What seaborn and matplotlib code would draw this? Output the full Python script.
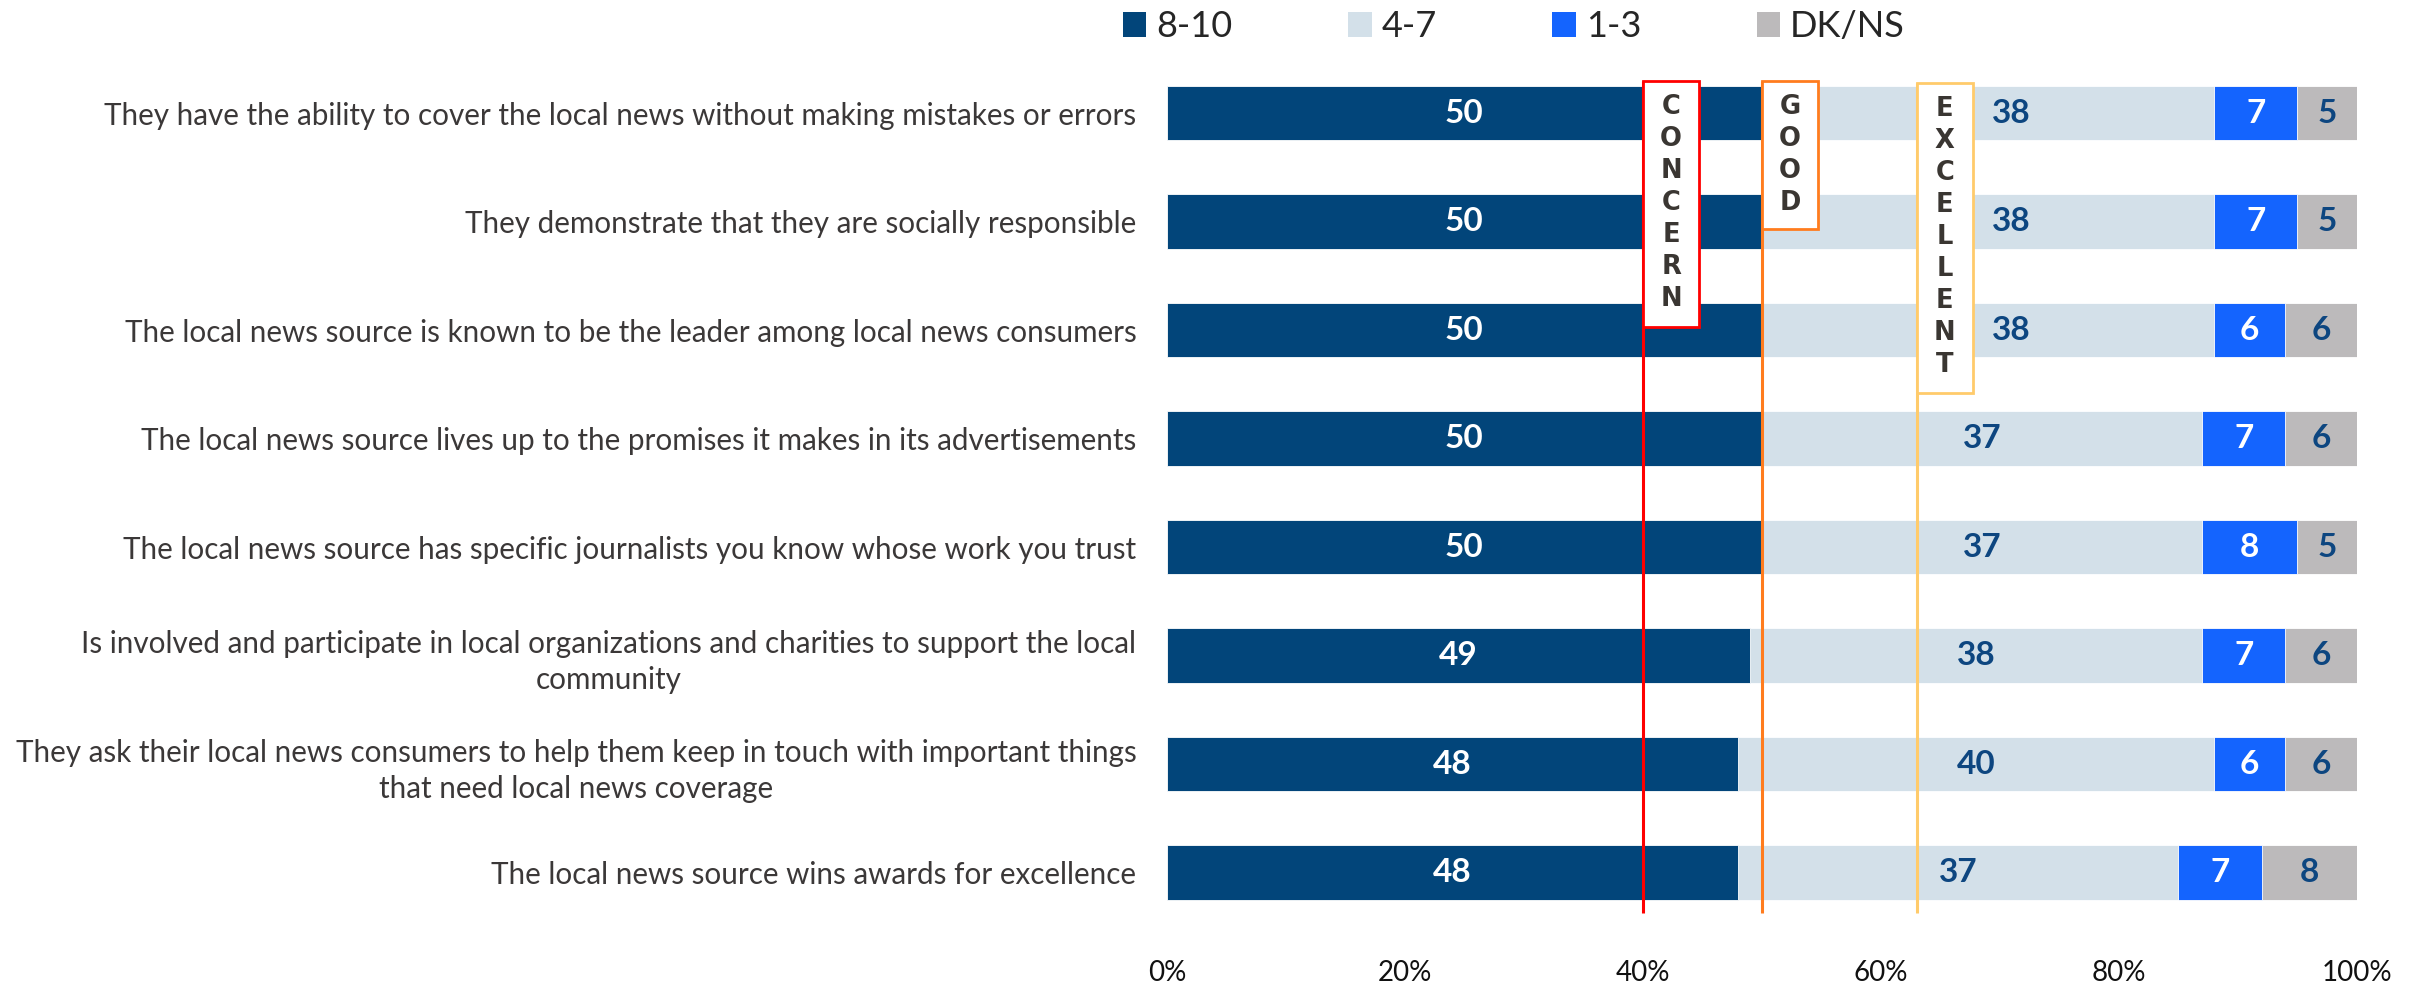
import numpy as np
import pandas as pd
import seaborn as sns
import matplotlib.pyplot as plt
from matplotlib.patches import Rectangle, Patch

# ---- data -------------------------------------------------------------
categories = [
    "They have the ability to cover the local news without making mistakes or errors",
    "They demonstrate that they are socially responsible",
    "The local news source is known to be the leader among local news consumers",
    "The local news source lives up to the promises it makes in its advertisements",
    "The local news source has specific journalists you know whose work you trust",
    "Is involved and participate in local organizations and charities to support the local\ncommunity",
    "They ask their local news consumers to help them keep in touch with important things\nthat need local news coverage",
    "The local news source wins awards for excellence",
]
score_8_10 = [50, 50, 50, 50, 50, 49, 48, 48]
score_4_7 = [38, 38, 38, 37, 37, 38, 40, 37]
score_1_3 = [7, 7, 6, 7, 8, 7, 6, 7]
score_dkns = [5, 5, 6, 6, 5, 6, 6, 8]
series_names = ["8-10", "4-7", "1-3", "DK/NS"]
x_ticks = [0, 20, 40, 60, 80, 100]

threshold_words = ["CONCERN", "GOOD", "EXCELLENT"]
threshold_values = [40, 50, 63]

# ---- styling -----------------------------------------------------------
series_colors = ["#02457a", "#d3e0e9", "#1464fe", "#bcbabb"]
label_colors = ["white", "#0d4680", "white", "#0d4680"]
threshold_colors = ["#ff0000", "#ff7c1e", "#ffcb6b"]

sns.set_theme(style="white")
plt.rcParams["font.family"] = ["Lato", "DejaVu Sans"]

df = pd.DataFrame({
    "category": categories,
    "8-10": score_8_10,
    "4-7": score_4_7,
    "1-3": score_1_3,
    "DK/NS": score_dkns,
})
cum = df[series_names].cumsum(axis=1)
for name in series_names:
    df["cum_" + name] = cum[name]

fig = plt.figure(figsize=(24.2, 9.83), dpi=100)
ax = fig.add_axes([0.4822, 0.0572, 0.4917, 0.883])

# stacked bars: draw cumulative totals from the outermost segment inward
for name, color in reversed(list(zip(series_names, series_colors))):
    sns.barplot(data=df, y="category", x="cum_" + name, order=categories,
                orient="h", color=color, saturation=1, width=0.5,
                edgecolor="white", linewidth=0.6, ax=ax)

# threshold markers with vertical word boxes
box_width = 4.75
box_tops = [-0.295, -0.295, -0.276]
box_bottoms = [1.972, 1.069, 2.58]
letter_start = [-0.058, -0.055, -0.037]
letter_pitch = 0.295
line_bottom = 7.37
for word, xv, col, bt, bb, ls in zip(threshold_words, threshold_values,
                                     threshold_colors, box_tops, box_bottoms,
                                     letter_start):
    ax.plot([xv, xv], [bt, line_bottom], color=col, lw=2.2, zorder=4,
            solid_capstyle="butt")
    ax.add_patch(Rectangle((xv, bt), box_width, bb - bt, facecolor="white",
                           edgecolor=col, lw=2, zorder=5))
    for k, ch in enumerate(word):
        ax.text(xv + box_width / 2, ls + k * letter_pitch, ch,
                ha="center", va="center", fontsize=18.5, fontweight="bold",
                family="DejaVu Sans", color="#3a3632", zorder=6)

# segment value labels (nudged clear of a word box where one covers the row)
for i in range(len(categories)):
    left = 0
    for name, lc in zip(series_names, label_colors):
        v = df.loc[i, name]
        xc = left + v / 2
        for xv, bt, bb in zip(threshold_values, box_tops, box_bottoms):
            if bt < i < bb and xv <= xc <= xv + box_width + 3.2:
                xc = xv + box_width + 3.2
        ax.text(xc, i, f"{v}", ha="center", va="center",
                fontsize=24, fontweight="bold", color=lc, zorder=7)
        left += v

# axes formatting
ax.set_xlim(0, 100)
ax.set_ylim(7.5, -0.5)
ax.set_xticks(x_ticks)
ax.set_xticklabels([f"{t}%" for t in x_ticks], fontsize=20, color="#111111")
ax.set_xlabel("")
ax.set_ylabel("")
ax.tick_params(axis="x", length=0, pad=24)
ax.tick_params(axis="y", length=0, pad=22)
for lbl in ax.get_yticklabels():
    lbl.set_fontsize(21.3)
    lbl.set_color("#3b3838")
    lbl.set_multialignment("center")
    lbl.set_linespacing(1.35)
sns.despine(ax=ax, left=True, bottom=True)

handles = [Patch(facecolor=c, edgecolor="none") for c in series_colors]
fig.legend(handles, series_names, loc="center", bbox_to_anchor=(0.6256, 0.973),
           ncol=4, frameon=False, fontsize=26, handlelength=0.64,
           handleheight=0.67, handletextpad=0.28, columnspacing=3.2)

fig.savefig("out.png", dpi=100)
